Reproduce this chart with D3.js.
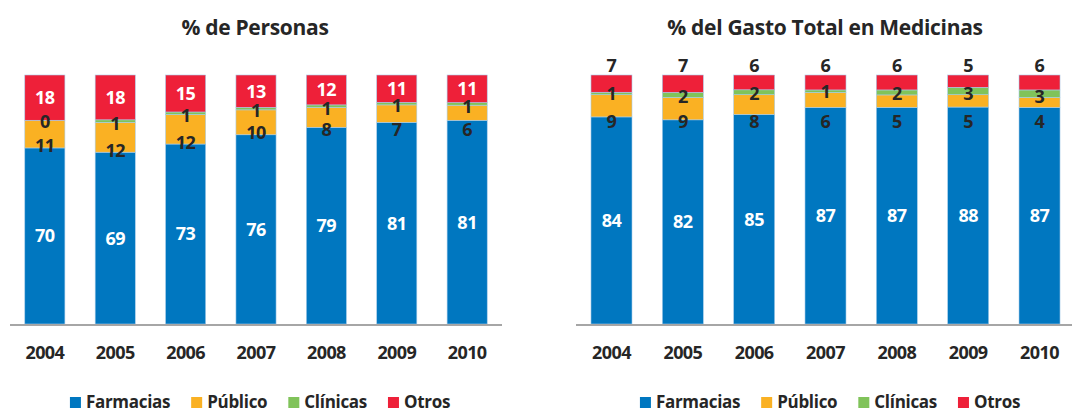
<!DOCTYPE html>
<html>
<head>
<meta charset="utf-8">
<script src="https://cdnjs.cloudflare.com/ajax/libs/d3/7.8.5/d3.min.js"></script>
<style>
    body { margin: 0; background: #fff; }
    svg text { font-family: 'Open Sans', Lato, sans-serif; font-weight: 700; fill: #262626; }
</style>
</head>
<body>
<svg id="chart" width="1072" height="410"></svg>
<script>
// data
let years = ['2004', '2005', '2006', '2007', '2008', '2009', '2010'];
let seriesNames = ['Farmacias', 'Público', 'Clínicas', 'Otros'];
let seriesColors = ['#0077c0', '#fab123', '#80c35a', '#ee2039'];

// % de Personas
let personasFarmacias = [70, 69, 73, 76, 79, 81, 81];
let personasPublico = [11, 12, 12, 10, 8, 7, 6];
let personasClinicas = [0, 1, 1, 1, 1, 1, 1];
let personasOtros = [18, 18, 15, 13, 12, 11, 11];

// % del Gasto Total en Medicinas
let gastoFarmacias = [84, 82, 85, 87, 87, 88, 87];
let gastoPublico = [9, 9, 8, 6, 5, 5, 4];
let gastoClinicas = [1, 2, 2, 1, 2, 3, 3];
let gastoOtros = [7, 7, 6, 6, 6, 5, 6];

let svg = d3.select('#chart');

function buildRows(f, p, c, o) {
    return years.map(function(y, i) {
        return { year: y, 'Farmacias': f[i], 'Público': p[i], 'Clínicas': c[i], 'Otros': o[i] };
    });
}

function drawPanel(opts) {
    let g = svg.append('g');

    let x = d3.scaleBand()
        .domain(years)
        .range(opts.xRange)
        .paddingInner(opts.padInner)
        .paddingOuter(0.21);

    let y = d3.scaleLinear()
        .domain([0, 1])
        .range([324, 75]);

    // 100% stacked
    let stack = d3.stack()
        .keys(seriesNames)
        .offset(d3.stackOffsetExpand);
    let layers = stack(opts.rows);

    let color = d3.scaleOrdinal().domain(seriesNames).range(seriesColors);

    let layer = g.selectAll('g.layer')
        .data(layers)
        .enter()
        .append('g')
        .attr('class', 'layer')
        .attr('fill', function(d) { return color(d.key); });

    layer.selectAll('rect')
        .data(function(d) { return d; })
        .enter()
        .append('rect')
        .attr('x', function(d) { return x(d.data.year); })
        .attr('width', x.bandwidth())
        .attr('y', function(d) { return y(d[1]); })
        .attr('height', function(d) { return y(d[0]) - y(d[1]); })
        .attr('stroke', '#a9cdea')
        .attr('stroke-width', 0.6);

    // data labels
    layers.forEach(function(l) {
        g.selectAll(null)
            .data(l)
            .enter()
            .append('text')
            .attr('x', function(d) { return x(d.data.year) + x.bandwidth() / 2; })
            .attr('y', function(d) { return opts.labelY[l.key](d, y); })
            .attr('dy', '0.36em')
            .attr('text-anchor', 'middle')
            .style('font-size', '18px')
            .style('letter-spacing', '-0.5px')
            .style('fill', opts.labelColor[l.key])
            .text(function(d) { return d.data[l.key]; });
    });

    // baseline
    g.append('line')
        .attr('x1', opts.axisRange[0])
        .attr('x2', opts.axisRange[1])
        .attr('y1', y(0) + 1)
        .attr('y2', y(0) + 1)
        .attr('stroke', '#a6a6a6')
        .attr('stroke-width', 2);

    // year labels
    let xAxis = d3.axisBottom(x).tickSize(0).tickPadding(0);
    let ax = g.append('g')
        .attr('transform', 'translate(0,' + 346 + ')')
        .call(xAxis);
    ax.select('.domain').remove();
    ax.selectAll('text')
        .attr('font-family', null)
        .style('font-size', '18px')
        .style('letter-spacing', '-0.6px')
        .attr('dy', '0.71em')
        .attr('y', 0);

    // title
    g.append('text')
        .attr('x', opts.center)
        .attr('y', 35)
        .attr('text-anchor', 'middle')
        .style('font-size', '21px')
        .style('letter-spacing', '-0.3px')
        .text(opts.title);

    // legend
    let leg = g.append('g');
    let cx = 0;
    seriesNames.forEach(function(name, i) {
        leg.append('rect')
            .attr('x', cx)
            .attr('y', 397)
            .attr('width', 11)
            .attr('height', 11)
            .attr('fill', seriesColors[i]);
        let t = leg.append('text')
            .attr('x', cx + 16)
            .attr('y', 408)
            .style('font-size', '17px')
            .style('letter-spacing', '-0.3px')
            .text(name);
        cx += 16 + t.node().getComputedTextLength() + 21;
    });
    let legWidth = cx - 21;
    leg.attr('transform', 'translate(' + (opts.legendCenter - legWidth / 2) + ',0)');
}

function segMid(d, y) { return (y(d[0]) + y(d[1])) / 2; }

drawPanel({
    rows: buildRows(personasFarmacias, personasPublico, personasClinicas, personasOtros),
    title: '% de Personas',
    center: 255,
    legendCenter: 260,
    xRange: [10, 502],
    axisRange: [10, 502],
    padInner: 0.43,
    labelY: {
        'Farmacias': segMid,
        'Público': function(d, y) { return Math.max(y(d[0]) - 2, y(0.78)); },
        'Clínicas': function(d, y) { return y(d[0]) + 1; },
        'Otros': segMid
    },
    labelColor: { 'Farmacias': '#fff', 'Público': '#262626', 'Clínicas': '#262626', 'Otros': '#fff' }
});

drawPanel({
    rows: buildRows(gastoFarmacias, gastoPublico, gastoClinicas, gastoOtros),
    title: '% del Gasto Total en Medicinas',
    center: 825,
    legendCenter: 830,
    xRange: [576, 1075],
    axisRange: [576, 1072],
    padInner: 0.425,
    labelY: {
        'Farmacias': segMid,
        'Público': function(d, y) { return y(0.815); },
        'Clínicas': function(d, y) { return y(d[0]) - 1; },
        'Otros': function(d, y) { return y(1) - 9; }
    },
    labelColor: { 'Farmacias': '#fff', 'Público': '#262626', 'Clínicas': '#262626', 'Otros': '#262626' }
});
</script>
</body>
</html>
